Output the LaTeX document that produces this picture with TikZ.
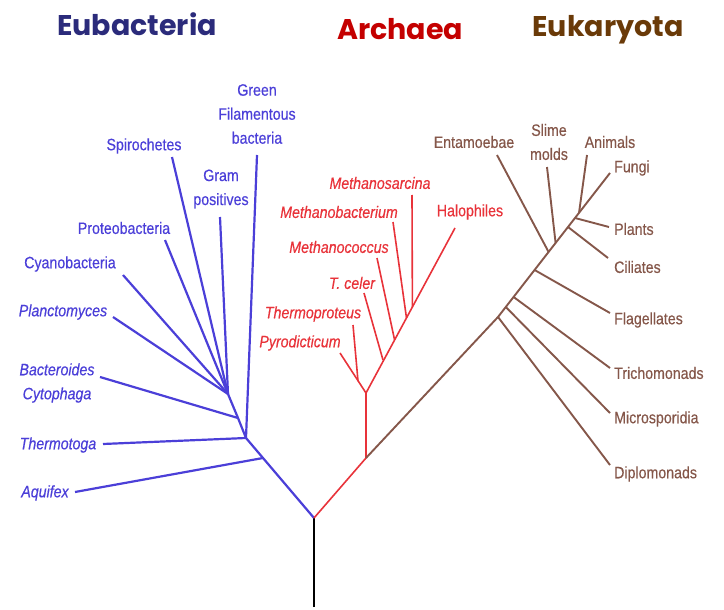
\documentclass[tikz,border=0pt]{standalone}
\usepackage{fontspec}
\setmainfont{Liberation Sans}[FakeStretch=0.86, FakeBold=0.45]
\newfontfamily\titlefont{Poppins}
\definecolor{bblue}{HTML}{4B3FD8}
\definecolor{ared}{HTML}{E8333A}
\definecolor{ebrown}{HTML}{85574A}
\definecolor{tnavy}{HTML}{2B2B7B}
\definecolor{tred}{HTML}{C40000}
\definecolor{tbrown}{HTML}{6A3A08}
\tikzset{
  lab/.style={font=\fontsize{16.5}{24}\selectfont, inner sep=0pt, align=center},
  blab/.style={lab, text=bblue},
  bilab/.style={blab, font=\itshape\fontsize{16.5}{24}\selectfont},
  rlab/.style={lab, text=ared},
  rilab/.style={rlab, font=\itshape\fontsize{16.5}{24}\selectfont},
  elab/.style={lab, text=ebrown},
  ttl/.style={font=\titlefont\bfseries\fontsize{28.5}{30}\selectfont, inner sep=0pt},
  bline/.style={draw=bblue, line width=2.2pt},
  rline/.style={draw=ared, line width=1.6pt},
  eline/.style={draw=ebrown, line width=1.9pt},
  kline/.style={draw=black, line width=2pt},
}
\begin{document}
\begin{tikzpicture}[x=1pt,y=-1pt]
\useasboundingbox (0,0) rectangle (724,610);
% titles
\node[ttl, text=tnavy] (tEu) at (137,24) {Eubacteria};
\node[ttl, text=tred] (tAr) at (400,29) {Archaea};
\node[ttl, text=tbrown] (tEk) at (608,30) {Eukaryota};

% root
\coordinate (R0) at (314,607);
\coordinate (R) at (314,518);
\draw[kline] (R0) -- (R);

% ---------- Eubacteria ----------
\coordinate (B1) at (263,458);
\coordinate (B2) at (246,438);
\coordinate (B3) at (238,418);
\coordinate (B4) at (228,394);
\coordinate (bAq) at (75,492);
\coordinate (bTh) at (103,444);
\coordinate (bBa) at (100,377);
\coordinate (bPl) at (113,317);
\coordinate (bCy) at (123,275);
\coordinate (bPr) at (165,240);
\coordinate (bSp) at (172,157);
\coordinate (bGr) at (220,217);
\coordinate (bGf) at (257,155);
\draw[bline, line join=round] (R) -- (B1) -- (B2) -- (B3) -- (B4);
\draw[bline] (B1) -- (bAq);
\draw[bline] (B2) -- (bTh);
\draw[bline] (B2) -- (bGf);
\draw[bline] (B3) -- (bBa);
\draw[bline] (B4) -- (bPl);
\draw[bline] (B4) -- (bCy);
\draw[bline] (B4) -- (bPr);
\draw[bline] (B4) -- (bSp);
\draw[bline] (B4) -- (bGr);

\node[blab] (nGf) at (257,114) {Green\\Filamentous\\bacteria};
\node[blab] (nSp) at (144,146) {Spirochetes};
\node[blab] (nGr) at (221,189) {Gram\\positives};
\node[blab] (nPr) at (124,228) {Proteobacteria};
\node[blab] (nCy) at (70,264) {Cyanobacteria};
\node[bilab] (nPl) at (63,312) {Planctomyces};
\node[bilab] (nBa) at (57,383) {Bacteroides\\Cytophaga};
\node[bilab] (nTh) at (58,445) {Thermotoga};
\node[bilab] (nAq) at (45,493) {Aquifex};

% ---------- Archaea ----------
\coordinate (A1) at (366,458);
\coordinate (A2) at (366,393);
\coordinate (aPy) at (340,353);
\coordinate (aTj) at (358,381);
\coordinate (aTp) at (353,325);
\coordinate (aHa) at (455,228);
\coordinate (aCj) at (383,360);
\coordinate (aCe) at (364,293);
\coordinate (aMj) at (394.6,340);
\coordinate (aMc) at (377,258);
\coordinate (aBj) at (406.5,318);
\coordinate (aMb) at (393,222);
\coordinate (aSj) at (412.4,307);
\coordinate (aMs) at (412,195);
\draw[rline] (R) -- (A1) -- (A2);
\draw[rline] (A2) -- (aPy);
\draw[rline] (aTj) -- (aTp);
\draw[rline] (A2) -- (aHa);
\draw[rline] (aCj) -- (aCe);
\draw[rline] (aMj) -- (aMc);
\draw[rline] (aBj) -- (aMb);
\draw[rline] (aSj) -- (aMs);

\node[rilab] (nMs) at (380,183) {Methanosarcina};
\node[rilab] (nMb) at (339,212) {Methanobacterium};
\node[rlab] (nHa) at (470,212) {Halophiles};
\node[rilab] (nMc) at (339,247) {Methanococcus};
\node[rilab] (nCe) at (352,283) {T. celer};
\node[rilab] (nTp) at (313,314) {Thermoproteus};
\node[rilab] (nPy) at (300,343) {Pyrodicticum};

% ---------- Eukaryota ----------
\coordinate (E1) at (498,317);
\coordinate (E6) at (610,173);
\coordinate (eMj) at (505.8,307);
\coordinate (eTj) at (513.6,297);
\coordinate (eFj) at (534.6,270);
\coordinate (eEj) at (548.6,252);
\coordinate (eSj) at (555.6,243);
\coordinate (eCj) at (568,227);
\coordinate (ePj) at (575,218);
\coordinate (eAj) at (579,213);
\coordinate (eDi) at (610,465);
\coordinate (eMi) at (610,413);
\coordinate (eTr) at (610,368);
\coordinate (eFl) at (610,313);
\coordinate (eCi) at (608,258);
\coordinate (ePl) at (609,227);
\coordinate (eAn) at (587,155);
\coordinate (eSl) at (547,167);
\coordinate (eEn) at (497,155);
\draw[eline, line join=round] (A1) -- (E1) -- (E6);
\draw[eline] (E1) -- (eDi);
\draw[eline] (eMj) -- (eMi);
\draw[eline] (eTj) -- (eTr);
\draw[eline] (eFj) -- (eFl);
\draw[eline] (eEj) -- (eEn);
\draw[eline] (eSj) -- (eSl);
\draw[eline] (eCj) -- (eCi);
\draw[eline] (ePj) -- (ePl);
\draw[eline] (eAj) -- (eAn);

\node[elab, anchor=west] (nFu) at (614,168) {Fungi};
\node[elab, anchor=west] (nPl2) at (614,229) {Plants};
\node[elab, anchor=west] (nCi) at (614,267) {Ciliates};
\node[elab, anchor=west] (nFl) at (614,320) {Flagellates};
\node[elab, anchor=west] (nTr) at (614,373) {Trichomonads};
\node[elab, anchor=west] (nMi) at (614,419) {Microsporidia};
\node[elab, anchor=west] (nDi) at (614,474) {Diplomonads};
\node[elab] (nAn) at (610,142) {Animals};
\node[elab] (nSl) at (549,142) {Slime\\molds};
\node[elab] (nEn) at (474,142) {Entamoebae};
\end{tikzpicture}
\end{document}
